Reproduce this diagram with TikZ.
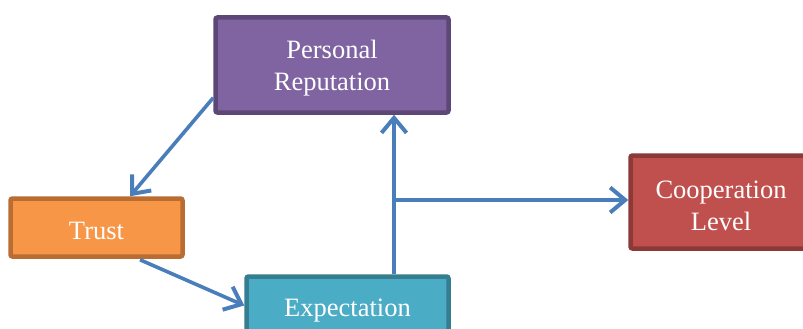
\documentclass[tikz,border=0pt]{standalone}
\usepackage{fontspec}
\setmainfont{Liberation Serif}
\usetikzlibrary{arrows.meta,calc}
\definecolor{prfill}{HTML}{8064A2}
\definecolor{prdraw}{HTML}{5C4776}
\definecolor{trfill}{HTML}{F79646}
\definecolor{trdraw}{HTML}{B96D33}
\definecolor{exfill}{HTML}{4BACC6}
\definecolor{exdraw}{HTML}{357D91}
\definecolor{cofill}{HTML}{C0504D}
\definecolor{codraw}{HTML}{8C3A38}
\definecolor{arrowblue}{HTML}{4A7EBB}
\tikzset{
  box/.style={rectangle, rounded corners=2pt, line width=4.5pt, inner sep=0pt},
  boxtext/.style={text=white, align=center, inner sep=0pt, yshift=-3.5pt,
    font=\fontsize{26.5pt}{32pt}\selectfont},
  conn/.style={draw=arrowblue, line width=3.6pt},
  tip/.style={-{Straight Barb[length=15pt,width=25pt,line width=4pt]}}
}
\begin{document}
\begin{tikzpicture}[x=1pt,y=-1pt]
\clip (0,0) rectangle (803,329);
\fill[white] (0,0) rectangle (803,329);
\node[box, fill=prfill, draw=prdraw, minimum width=233pt, minimum height=95pt] (PR) at (332,65) {};
\node[boxtext] (PRt) at (PR.center) {Personal\\Reputation};
\node[box, fill=trfill, draw=trdraw, minimum width=172pt, minimum height=58pt] (TR) at (96.5,227.5) {};
\node[boxtext] (TRt) at (TR.center) {Trust};
\node[box, fill=exfill, draw=exdraw, minimum width=202pt, minimum height=62pt] (EX) at (347.5,307.5) {};
\node[boxtext] (EXt) at (EX.center) {Expectation};
\node[box, fill=cofill, draw=codraw, minimum width=181pt, minimum height=93pt] (CO) at (721,202) {};
\node[boxtext] (COt) at (CO.center) {Cooperation\\Level};
\coordinate (J) at (394,200);
\draw[conn, tip] ([yshift=17pt]PR.south west) -- ([xshift=33.5pt]TR.north);
\draw[conn, tip] ([xshift=43.5pt,yshift=-1pt]TR.south) -- ([yshift=2pt]EX.west);
\draw[conn, tip] (EX.north -| J) -- (PR.south -| J);
\draw[conn, tip] (J) -- (J -| CO.west);
\end{tikzpicture}
\end{document}
